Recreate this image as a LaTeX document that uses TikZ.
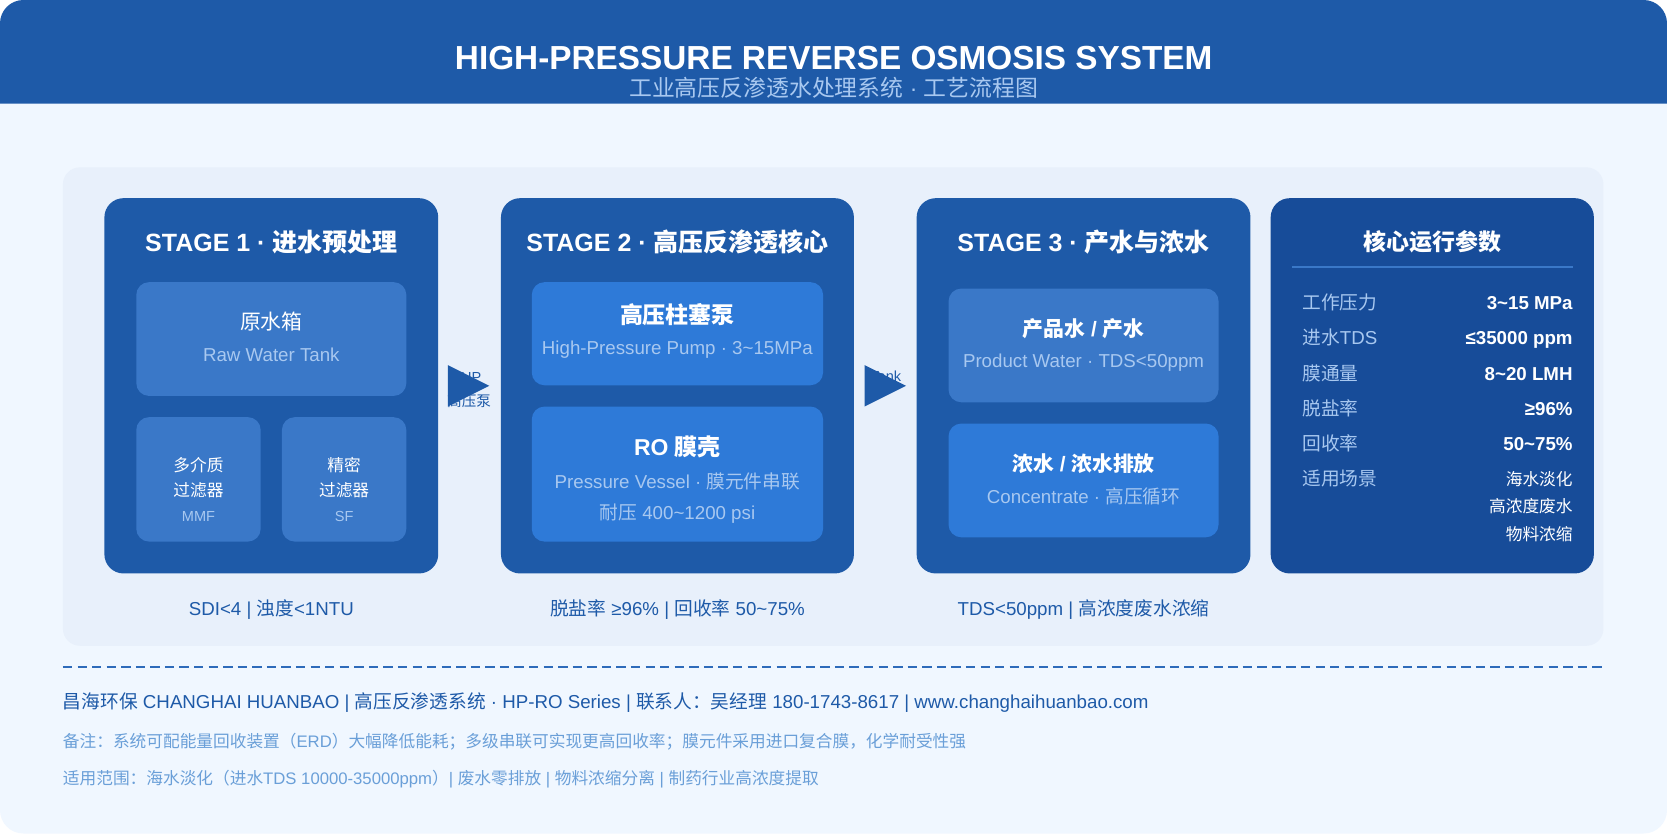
\documentclass[tikz,border=0pt]{standalone}
\usepackage{fontspec}
\setmainfont{Liberation Sans}
\newfontfamily\cjkfont{Noto Sans CJK SC}
\newcommand{\zh}[1]{{\cjkfont #1}}
\newcommand{\fs}[1]{\fontsize{#1}{#1}\selectfont}
\usetikzlibrary{positioning}
\definecolor{pagebg}{HTML}{F0F7FF}
\definecolor{panelbg}{HTML}{E8F0FB}
\definecolor{deepblue}{HTML}{1E5AA8}
\definecolor{navyblue}{HTML}{174C99}
\definecolor{midblue}{HTML}{3A78C8}
\definecolor{dashblue}{HTML}{2E6BBA}
\definecolor{brightblue}{HTML}{2E7AD8}
\definecolor{paleblue}{HTML}{A8C8F0}
\definecolor{noteblue}{HTML}{6A9FD8}
\begin{document}
\begin{tikzpicture}[
    x=1pt, y=-1pt,
    every node/.style={inner sep=0pt, outer sep=0pt, text centered, anchor=base},
    stagebox/.style={rectangle, rounded corners=18pt, fill=deepblue, anchor=north west, minimum height=353pt},
    softbox/.style={rectangle, rounded corners=12pt, fill=midblue, anchor=north west},
    brightbox/.style={rectangle, rounded corners=12pt, fill=brightblue, anchor=north west},
    stagetitle/.style={font=\fs{23.5}\bfseries, text=white},
    mainlabel/.style={font=\fs{19.6}, text=white},
    boldlabel/.style={font=\fs{19.6}\bfseries, text=white},
    sublabel/.style={font=\fs{17.6}, text=paleblue},
    tinylabel/.style={font=\fs{13.7}, text=paleblue},
    filterlabel/.style={font=\fs{15.7}, text=white},
    caption/.style={font=\fs{17.6}, text=deepblue},
    arrowlabel/.style={font=\fs{13.7}, text=deepblue},
    paramname/.style={font=\fs{17.6}, text=paleblue, anchor=base west},
    paramvalue/.style={font=\fs{17.6}\bfseries, text=white, anchor=base east},
    paramtext/.style={font=\fs{15.7}, text=white, anchor=base east},
    footmain/.style={font=\fs{17.6}, text=deepblue, anchor=base west},
    footnote/.style={font=\fs{15.7}, text=noteblue, anchor=base west}
]
\useasboundingbox (-0.2,-0.4) rectangle (1567.8,783.6);
% Page and header
\fill [white] (-0.2,-0.4) rectangle (1567.8,783.6);
\fill [pagebg, rounded corners=22pt] (-0.2,-0.4) rectangle (1567.8,783.6);
\fill [deepblue] (-0.2,97) [rounded corners=22pt] -- (-0.2,-0.4) -- (1567.8,-0.4) [sharp corners] -- (1567.8,97) -- cycle;
\node (title) [font=\fs{31.35}\bfseries, text=white] at (784,65) {HIGH-PRESSURE REVERSE OSMOSIS SYSTEM};
\node (subtitle) [font=\fs{21.5}, text=paleblue] at (784,90) {\zh{工业高压反渗透水处理系统} · \zh{工艺流程图}};

% Panel and stages
\node (panel) [rectangle, rounded corners=16pt, fill=panelbg, anchor=north west, minimum width=1449pt, minimum height=450pt] at (59,157) {};
\node (stageOne) [stagebox, minimum width=314pt] at (98,186) {};
\node (stageTwo) [stagebox, minimum width=332pt] at (471,186) {};
\node (stageThree) [stagebox, minimum width=314pt] at (862,186) {};
\node (paramBox) [stagebox, fill=navyblue, minimum width=304pt] at (1195,186) {};

% Stage 1
\node (stageOneTitle) [stagetitle] at (255,236.3) {STAGE 1 · \zh{进水预处理}};
\node (tank) [softbox, minimum width=254pt, minimum height=107pt] at (128,265) {};
\node (tankName) [mainlabel] at (255,309.3) {\zh{原水箱}};
\node (tankSub) [sublabel] at (255,339.3) {Raw Water Tank};
\node (mmf) [softbox, minimum width=117pt, minimum height=117pt] at (128,392) {};
\node (mmfNameA) [filterlabel] at (186.5,443.3) {\zh{多介质}};
\node (mmfNameB) [filterlabel] at (186.5,466.3) {\zh{过滤器}};
\node (mmfSub) [tinylabel] at (186.5,490.3) {MMF};
\node (sf) [softbox, minimum width=117pt, minimum height=117pt] at (265,392) {};
\node (sfNameA) [filterlabel] at (323.5,443.3) {\zh{精密}};
\node (sfNameB) [filterlabel] at (323.5,466.3) {\zh{过滤器}};
\node (sfSub) [tinylabel] at (323.5,490.3) {SF};

% Arrow 1, its label sits behind the triangle
\node (hpLabel) [arrowlabel] at (443,359) {HP};
\node (hpLabelZh) [arrowlabel] at (441,382) {\zh{高压泵}};
\fill [deepblue] (421,343) -- (460,362.5) -- (421,382) -- cycle;

% Stage 2
\node (stageTwoTitle) [stagetitle] at (637,236.3) {STAGE 2 · \zh{高压反渗透核心}};
\node (pump) [brightbox, minimum width=274pt, minimum height=97pt] at (500,265) {};
\node (pumpName) [font=\fs{21.6}\bfseries, text=white] at (637,304.3) {\zh{高压柱塞泵}};
\node (pumpSub) [sublabel] at (637,333.3) {High-Pressure Pump · 3\textasciitilde15MPa};
\node (vessel) [brightbox, minimum width=274pt, minimum height=127pt] at (500,382) {};
\node (vesselName) [font=\fs{21.6}\bfseries, text=white] at (637,428.3) {RO \zh{膜壳}};
\node (vesselSubA) [sublabel] at (637,459.3) {Pressure Vessel · \zh{膜元件串联}};
\node (vesselSubB) [sublabel] at (637,488.3) {\zh{耐压} 400\textasciitilde1200 psi};

% Arrow 2
\node (tankLabel) [arrowlabel] at (833,358) {Tank};
\fill [deepblue] (813,343) -- (852,362.5) -- (813,382) -- cycle;

% Stage 3
\node (stageThreeTitle) [stagetitle] at (1019,236.3) {STAGE 3 · \zh{产水与浓水}};
\node (product) [softbox, minimum width=254pt, minimum height=107pt] at (892,271) {};
\node (productName) [boldlabel] at (1019,316.3) {\zh{产品水} / \zh{产水}};
\node (productSub) [sublabel] at (1019,345.3) {Product Water · TDS<50ppm};
\node (brine) [brightbox, minimum width=254pt, minimum height=107pt] at (892,398) {};
\node (brineName) [boldlabel] at (1019,443.3) {\zh{浓水} / \zh{浓水排放}};
\node (brineSub) [sublabel] at (1019,473.3) {Concentrate · \zh{高压循环}};

% Parameters
\node (paramTitle) [font=\fs{21.6}\bfseries, text=white] at (1347,235.3) {\zh{核心运行参数}};
\coordinate (ruleStart) at (1215,251);
\coordinate (ruleEnd) at (1479,251);
\draw [midblue, line width=2pt] (ruleStart) -- (ruleEnd);
\node (pressureName) [paramname] at (1225,290.3) {\zh{工作压力}};
\node (pressureValue) [paramvalue] at (1479,290.3) {3\textasciitilde15 MPa};
\node (tdsName) [paramname] at (1225,323.3) {\zh{进水}TDS};
\node (tdsValue) [paramvalue] at (1479,323.3) {≤35000 ppm};
\node (fluxName) [paramname] at (1225,357.3) {\zh{膜通量}};
\node (fluxValue) [paramvalue] at (1479,357.3) {8\textasciitilde20 LMH};
\node (saltName) [paramname] at (1225,390.3) {\zh{脱盐率}};
\node (saltValue) [paramvalue] at (1479,390.3) {≥96\%};
\node (recoveryName) [paramname] at (1225,423.3) {\zh{回收率}};
\node (recoveryValue) [paramvalue] at (1479,423.3) {50\textasciitilde75\%};
\node (sceneName) [paramname] at (1225,456.3) {\zh{适用场景}};
\node (sceneA) [paramtext] at (1479,456.3) {\zh{海水淡化}};
\node (sceneB) [paramtext] at (1479,482) {\zh{高浓度废水}};
\node (sceneC) [paramtext] at (1479,507.8) {\zh{物料浓缩}};

% Captions
\node (captionOne) [caption] at (255,578.3) {SDI<4 | \zh{浊度}<1NTU};
\node (captionTwo) [caption] at (637,578.3) {\zh{脱盐率} ≥96\% | \zh{回收率} 50\textasciitilde75\%};
\node (captionThree) [caption] at (1019,578.3) {TDS<50ppm | \zh{高浓度废水浓缩}};

% Footer
\coordinate (dashStart) at (59,627);
\coordinate (dashEnd) at (1507,627);
\draw [dashblue, line width=2pt, dash pattern=on 8.8pt off 4.9pt] (dashStart) -- (dashEnd);
\node (footA) [footmain] at (59,666.3) {\zh{昌海环保} CHANGHAI HUANBAO | \zh{高压反渗透系统} · HP-RO Series | \zh{联系人：吴经理} 180-1743-8617 | www.changhaihuanbao.com};
\node (footB) [footnote] at (59,702.3) {\zh{备注：系统可配能量回收装置（}ERD\zh{）大幅降低能耗；多级串联可实现更高回收率；膜元件采用进口复合膜，化学耐受性强}};
\node (footC) [footnote] at (59,737.3) {\zh{适用范围：海水淡化（进水}TDS 10000-35000ppm\zh{）}| \zh{废水零排放} | \zh{物料浓缩分离} | \zh{制药行业高浓度提取}};
\end{tikzpicture}
\end{document}
